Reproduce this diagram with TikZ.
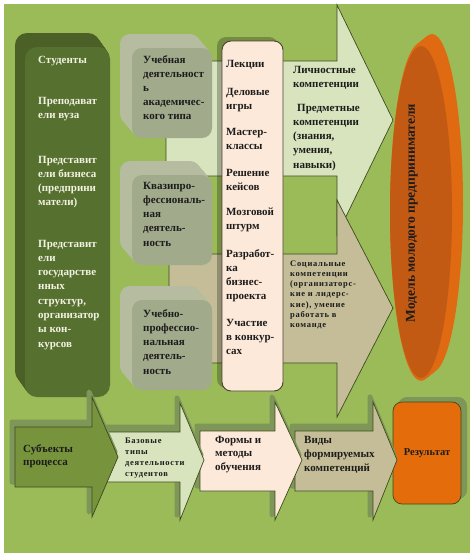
\documentclass[tikz,border=0pt]{standalone}
\usepackage{fontspec}
\setmainfont{Liberation Serif}
\newcommand\mlines[1]{\begin{tabular}[t]{@{}l@{}}#1\end{tabular}}
\definecolor{bg}{HTML}{9BBB59}
\definecolor{palegreen}{HTML}{D7E4BD}
\definecolor{tanc}{HTML}{C4BD97}
\definecolor{peach}{HTML}{FDE9D9}
\definecolor{olivearrow}{HTML}{77933C}
\definecolor{orangebox}{HTML}{E46C0A}
\definecolor{orangeside}{HTML}{E06A12}
\definecolor{orangefront}{HTML}{C25A14}
\definecolor{arrowedge}{HTML}{3D4A1E}
\definecolor{darkfront}{HTML}{56702F}
\definecolor{darkext}{HTML}{4B6026}
\definecolor{greyfront}{HTML}{A2AA8C}
\definecolor{greyext}{HTML}{B5BC9F}
\definecolor{cream}{HTML}{F2F2E2}
\definecolor{ink}{HTML}{1C1C1C}
\definecolor{shadowc}{HTML}{7E9658}
\definecolor{peachedge}{HTML}{4A4034}
\begin{document}
\begin{tikzpicture}[x=1pt,y=-1pt,
  arrowline/.style={draw=arrowedge, line width=0.7pt, line join=miter},
  shad/.style={fill=shadowc, draw=shadowc, line width=5pt, line join=round, shift={(-3,-5)}},
  txt/.style={anchor=base west, inner sep=0pt, text=ink},
  fA/.style={font=\bfseries\fontsize{11}{14.3}\selectfont},
  fB/.style={font=\bfseries\fontsize{11}{14}\selectfont},
  fC/.style={font=\bfseries\fontsize{8.5}{10.3}\selectfont\addfontfeature{LetterSpace=8}},
  fD/.style={font=\bfseries\fontsize{8.5}{11}\selectfont\addfontfeature{LetterSpace=8}}]
\useasboundingbox (0,0) rectangle (474,557);
\fill[white] (0,0) rectangle (474,557);
\fill[bg] (4,4) rectangle (470,553);

% big background arrows
\draw[arrowline, fill=palegreen] (166,61) -- (337,61) -- (337,5) -- (393,120) -- (337,235) -- (337,176) -- (166,176) -- cycle;
\draw[arrowline, fill=tanc] (169,254) -- (337,254) -- (337,200) -- (393,308) -- (337,417) -- (337,363) -- (169,363) -- cycle;

% left dark 3D box
\foreach \i in {14,13,...,1}
  \fill[darkext, rounded corners=12pt, shift={({-\i*10/14},{-\i})}] (25,47) rectangle (110,397);
\fill[darkfront, rounded corners=12pt] (25,47) rectangle (110,397);

% grey 3D boxes
\foreach \ya/\yb in {48/138, 175/265, 300/390}{
  \foreach \i in {14,13,...,1}
    \fill[greyext, rounded corners=10pt, shift={({-\i*12/14},{-\i})}] (132,\ya) rectangle (212,\yb);
  \fill[greyfront, rounded corners=10pt] (132,\ya) rectangle (212,\yb);
}

% peach column
\fill[black, opacity=.25, rounded corners=9pt] (217,37) rectangle (278,388);
\draw[fill=peach, draw=peachedge, line width=0.9pt, rounded corners=9pt] (222,41) rectangle (283,391);

% orange 3D ellipse
\foreach \i in {0,...,11}
  \fill[orangeside] ({432-\i},{203+\i*0.8}) ellipse [x radius=31, y radius=169];
\fill[orangefront] (421,212) ellipse [x radius=31, y radius=166];

% bottom row: result box and arrows (right to left)
\fill[shadowc, rounded corners=9pt] (398,397) rectangle (467,499);
\draw[arrowline, fill=orangebox, rounded corners=9pt] (393,402) rectangle (461,504);

\path[shad] (295,431) -- (373,431) -- (373,402) -- (397,460) -- (373,520) -- (373,491) -- (295,491) -- cycle;
\draw[arrowline, fill=tanc] (295,431) -- (373,431) -- (373,402) -- (397,460) -- (373,520) -- (373,491) -- (295,491) -- cycle;

\path[shad] (200,431) -- (275,431) -- (275,402) -- (302,460) -- (275,520) -- (275,491) -- (200,491) -- cycle;
\draw[arrowline, fill=peach] (200,431) -- (275,431) -- (275,402) -- (302,460) -- (275,520) -- (275,491) -- (200,491) -- cycle;

\path[shad] (103,432) -- (180,432) -- (180,403) -- (204,460) -- (180,520) -- (180,482) -- (103,482) -- cycle;
\draw[arrowline, fill=palegreen] (103,432) -- (180,432) -- (180,403) -- (204,460) -- (180,520) -- (180,482) -- (103,482) -- cycle;

\path[shad] (15,427) -- (92,427) -- (92,397) -- (118,457) -- (92,517) -- (92,487) -- (15,487) -- cycle;
\draw[arrowline, fill=olivearrow] (15,427) -- (92,427) -- (92,397) -- (118,457) -- (92,517) -- (92,487) -- (15,487) -- cycle;

% texts: left box
\node[txt, fA, text=cream] (s1) at (38,63) {Студенты};
\node[txt, fA, text=cream] (s2) at (38,104) {\mlines{Преподават\\ели вуза}};
\node[txt, fA, text=cream] (s3) at (38,163) {\mlines{Представит\\ели бизнеса\\(предприни\\матели)}};
\node[txt, fA, text=cream] (s4) at (38,247) {\mlines{Представит\\ели\\государстве\\нных\\структур,\\организатор\\ы кон-\\курсов}};

% texts: grey boxes
\node[txt, fB] (b1) at (143,63) {\mlines{Учебная\\деятельност\\ь\\академичес-\\кого типа}};
\node[txt, fA] (b2) at (143,189) {\mlines{Квазипро-\\фессиональ-\\ная\\деятель-\\ность}};
\node[txt, fA] (b3) at (143,317) {\mlines{Учебно-\\профессио-\\нальная\\деятель-\\ность}};

% texts: peach column
\node[txt, fB] (p1) at (226,67) {Лекции};
\node[txt, fB] (p2) at (226,95) {\mlines{Деловые\\игры}};
\node[txt, fB] (p3) at (226,135) {\mlines{Мастер-\\классы}};
\node[txt, fB] (p4) at (226,176) {\mlines{Решение\\кейсов}};
\node[txt, fB] (p5) at (226,215) {\mlines{Мозговой\\штурм}};
\node[txt, fA] (p6) at (226,257) {\mlines{Разработ-\\ка\\бизнес-\\проекта}};
\node[txt, fA] (p7) at (226,326) {\mlines{Участие\\в конкур-\\сах}};

% texts: competences
\node[txt, fB] (u1) at (293,73) {\mlines{Личностные\\компетенции}};
\node[txt, fA] (u2) at (293,111) {\mlines{\hspace*{4pt}Предметные\\компетенции\\(знания,\\умения,\\навыки)}};
\node[txt, fC] (t1) at (290,266) {\mlines{Социальные\\компетенции\\(организаторс-\\кие и лидерс-\\кие), умение\\работать в\\команде}};

% rotated label
\node[inner sep=0pt, rotate=90, text=ink, font=\bfseries\fontsize{13.5}{15}\selectfont] (m1) at (412,213) {Модель молодого предпринимателя};

% texts: bottom row
\node[txt, font=\bfseries\fontsize{11}{13.5}\selectfont] (a1) at (23,452) {\mlines{Субъекты\\процесса}};
\node[txt, fD] (a2) at (125,443) {\mlines{Базовые\\типы\\деятельности\\студентов}};
\node[txt, font=\bfseries\fontsize{11}{13.7}\selectfont] (a3) at (215,443) {\mlines{Формы и\\методы\\обучения}};
\node[txt, fA] (a4) at (304,443) {\mlines{Виды\\формируемых\\компетенций}};
\node[anchor=base, inner sep=0pt, text=ink, font=\bfseries\fontsize{10.5}{12}\selectfont] (r1) at (427,455) {Результат};
\end{tikzpicture}
\end{document}
